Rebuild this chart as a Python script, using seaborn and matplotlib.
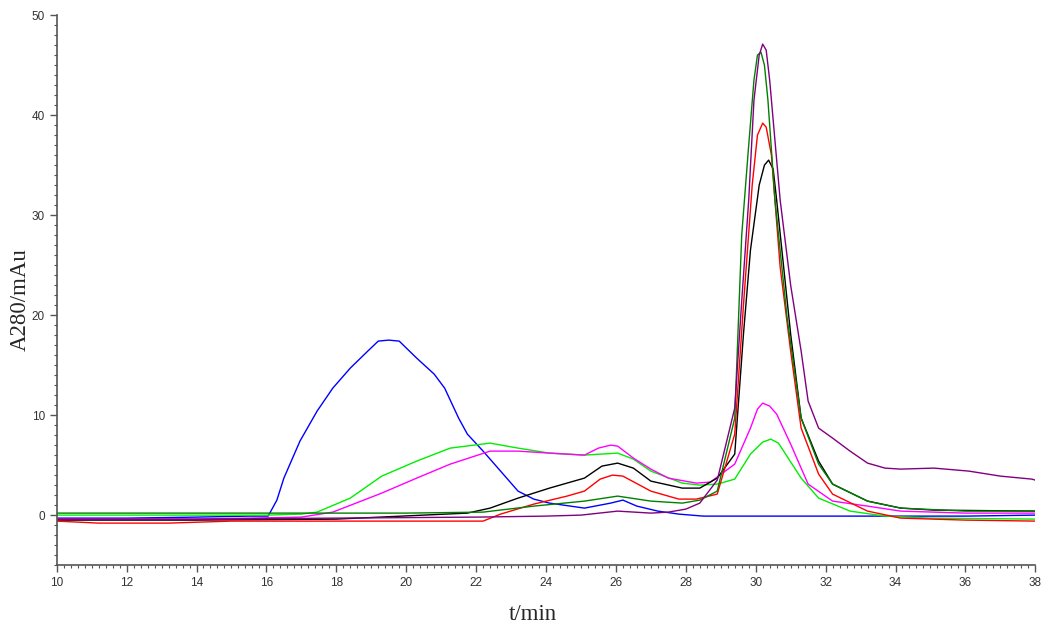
import matplotlib
matplotlib.use("Agg")
import matplotlib.pyplot as plt
from matplotlib.ticker import MultipleLocator
import seaborn as sns

# chromatogram traces (t in min, A280 in mAu)
blue_t = [10, 12, 14, 15.5, 16.05, 16.3, 16.5, 16.96, 17.45, 17.9, 18.4, 18.9, 19.2, 19.5, 19.8,
          20.3, 20.8, 21.1, 21.5, 21.75, 22.2, 22.7, 23.2, 23.65, 24.1, 25.1, 25.85, 26.2, 26.6,
          27.2, 27.8, 28.5, 32, 36, 38]
blue_v = [-0.3, -0.3, -0.2, -0.1, -0.1, 1.5, 3.7, 7.4, 10.4, 12.7, 14.7, 16.4, 17.4, 17.5, 17.4,
          15.7, 14.1, 12.7, 9.7, 8.1, 6.4, 4.4, 2.4, 1.6, 1.2, 0.7, 1.2, 1.5, 0.9,
          0.4, 0.1, -0.1, -0.1, -0.1, 0.0]

lime_t = [10, 13, 16, 17, 17.45, 18.4, 19.3, 20.3, 21.26, 22.4, 23.2, 24.1, 25.1, 26.05, 26.5,
          27.0, 27.9, 28.4, 28.9, 29.4, 29.85, 30.2, 30.43, 30.65, 30.8, 31.3, 31.8, 32.7, 33.7, 35, 38]
lime_v = [0.0, 0.0, 0.0, 0.1, 0.3, 1.7, 3.9, 5.4, 6.7, 7.2, 6.7, 6.2, 6.0, 6.2, 5.6,
          4.4, 3.2, 3.0, 3.1, 3.6, 6.1, 7.3, 7.6, 7.2, 6.4, 3.7, 1.7, 0.4, -0.1, -0.3, -0.4]

magenta_t = [10, 14, 17, 17.9, 19.3, 20.3, 21.26, 22.4, 23.2, 24.1, 25.1, 25.5, 25.85, 26.05, 26.5,
             27.0, 27.5, 28.3, 28.7, 29.4, 29.85, 30.05, 30.2, 30.4, 30.6, 31.0, 31.5, 32.2, 33.2,
             34.15, 36, 38]
magenta_v = [-0.4, -0.4, -0.2, 0.3, 2.2, 3.7, 5.1, 6.4, 6.4, 6.2, 6.0, 6.7, 7.0, 6.9, 5.7,
             4.6, 3.7, 3.2, 3.3, 5.1, 8.7, 10.6, 11.2, 10.9, 10.1, 7.1, 3.1, 1.4, 0.9,
             0.4, 0.2, 0.2]

black_t = [10, 14, 18, 21.75, 22.4, 23.2, 24.1, 25.1, 25.6, 26.05, 26.5, 27.0, 27.9, 28.4, 28.9,
           29.4, 29.65, 29.85, 30.1, 30.25, 30.37, 30.5, 30.6, 31.0, 31.3, 31.8, 32.2, 33.2, 34.15,
           35.1, 38]
black_v = [-0.5, -0.5, -0.4, 0.2, 0.7, 1.7, 2.7, 3.7, 4.9, 5.2, 4.7, 3.4, 2.7, 2.7, 3.7,
           6.1, 18.1, 26.5, 33.0, 35.0, 35.5, 34.6, 31.5, 18.1, 9.7, 5.4, 3.1, 1.4, 0.7,
           0.5, 0.4]

red_t = [10, 11.2, 11.8, 13.2, 15, 17, 20, 22.2, 22.7, 23.65, 24.6, 25.1, 25.55, 25.9, 26.2,
         27.0, 27.8, 28.3, 28.9, 29.4, 29.65, 29.9, 30.05, 30.2, 30.3, 30.45, 30.7, 31.0, 31.3,
         31.8, 32.2, 33.2, 34.15, 36, 38]
red_v = [-0.6, -0.8, -0.8, -0.8, -0.6, -0.6, -0.6, -0.6, 0.1, 1.1, 1.9, 2.4, 3.6, 4.0, 3.9,
         2.4, 1.6, 1.6, 2.1, 8.1, 21.0, 33.0, 38.0, 39.2, 38.8, 36.0, 24.8, 16.4, 8.7,
         4.1, 2.1, 0.4, -0.3, -0.5, -0.6]

dkgreen_t = [10, 16, 20, 22.2, 23.65, 25.1, 26.05, 27.0, 27.9, 28.4, 28.9, 29.4, 29.6, 29.8,
             29.95, 30.05, 30.15, 30.25, 30.35, 30.55, 30.9, 31.3, 31.8, 32.2, 33.2, 34.15, 36, 38]
dkgreen_v = [0.2, 0.2, 0.2, 0.3, 0.9, 1.4, 1.9, 1.4, 1.2, 1.5, 2.4, 9.7, 28.0, 37.0,
             43.5, 46.0, 46.3, 45.0, 41.5, 31.5, 19.7, 9.7, 5.1, 3.1, 1.4, 0.7, 0.4, 0.4]

purple_t = [10, 14, 18, 22, 24, 25, 26.05, 27.0, 27.5, 28.0, 28.4, 28.9, 29.4, 29.6, 29.8, 29.95,
            30.1, 30.2, 30.3, 30.4, 30.7, 31.0, 31.3, 31.5, 31.8, 32.2, 32.7, 33.2, 33.7, 34.15,
            35.1, 36.1, 37.0, 37.9, 38]
purple_v = [-0.4, -0.4, -0.3, -0.2, -0.1, 0.0, 0.4, 0.2, 0.3, 0.6, 1.2, 3.5, 10.7, 21.4, 31.5, 41.5,
            46.0, 47.1, 46.5, 43.5, 31.5, 23.0, 16.4, 11.4, 8.7, 7.7, 6.4, 5.2, 4.7, 4.6,
            4.7, 4.4, 3.9, 3.6, 3.5]

traces = [
    (blue_t, blue_v, "#0000ff"),
    (lime_t, lime_v, "#00ee00"),
    (magenta_t, magenta_v, "#ff00ff"),
    (black_t, black_v, "#000000"),
    (red_t, red_v, "#ff0000"),
    (dkgreen_t, dkgreen_v, "#008000"),
    (purple_t, purple_v, "#800080"),
]

sns.set_style("ticks")
plt.rcParams['font.family'] = ['Liberation Sans', 'DejaVu Sans']

fig = plt.figure(figsize=(10.5, 6.3), dpi=100)
ax = fig.add_axes([0.054, 0.103, 0.932, 0.873])

for t, v, c in traces:
    sns.lineplot(x=t, y=v, color=c, linewidth=1.0, ax=ax, sort=False)

ax.set_xlim(10, 38)
ax.set_ylim(-5, 50)
ax.xaxis.set_major_locator(MultipleLocator(2))
ax.xaxis.set_minor_locator(MultipleLocator(0.2))
ax.yaxis.set_major_locator(MultipleLocator(10))
ax.yaxis.set_minor_locator(MultipleLocator(1))

sns.despine(ax=ax)
for s in ["left", "bottom"]:
    ax.spines[s].set_color("#555555")
    ax.spines[s].set_linewidth(1.2)
ax.tick_params(which="major", length=5, width=1, color="#555555", labelsize=8.5,
               labelcolor="#333333", direction="out")
ax.tick_params(which="minor", length=2.5, width=0.8, color="#555555", direction="out")

ax.set_xlabel("t/min", fontsize=16.5, family=["Liberation Serif", "DejaVu Serif"])
ax.set_ylabel("A280/mAu", fontsize=16.5, family=["Liberation Serif", "DejaVu Serif"])
ax.xaxis.set_label_coords(0.487, -0.07)
ax.yaxis.set_label_coords(-0.026, 0.482)

fig.savefig("out.png", dpi=100)
